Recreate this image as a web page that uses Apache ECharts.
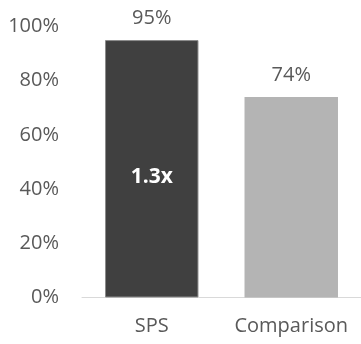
<!DOCTYPE html>
<html><head><meta charset="utf-8">
<script src="https://cdn.jsdelivr.net/npm/echarts@6/dist/echarts.min.js"></script>
<style>html,body{margin:0;padding:0;background:#fff}#c{width:361px;height:344px}</style>
</head><body><div id="c"></div>
<script>
const categories = ['SPS', 'Comparison'];
const values = [95, 74];
const innerLabels = ['1.3x', ''];
const yTicks = [0, 20, 40, 60, 80, 100];

const chart = echarts.init(document.getElementById('c'), null, {renderer: 'canvas'});
const FONT = 'Open Sans';
chart.setOption({
  animation: false,
  grid: {left: 82, right: 0, top: 26.5, bottom: 46.5, containLabel: false},
  xAxis: {
    type: 'category', data: categories,
    axisLine: {lineStyle: {color: '#d9d9d9', width: 1}},
    axisTick: {show: false},
    axisLabel: {interval: 0, hideOverlap: false, color: '#595959', fontFamily: FONT, fontSize: 20, margin: 19}
  },
  yAxis: {
    type: 'value', min: yTicks[0], max: yTicks[yTicks.length - 1], interval: 20,
    splitLine: {show: false}, axisLine: {show: false}, axisTick: {show: false},
    axisLabel: {color: '#595959', fontFamily: FONT, fontSize: 20, margin: 23, formatter: '{value}%'}
  },
  series: [
    {
      type: 'bar', barCategoryGap: '33%',
      data: values.map((v, i) => ({
        value: v,
        itemStyle: i === 0 ? {color: '#404040', borderColor: '#8c8c8c', borderWidth: 1} : {color: '#b4b4b4'}
      })),
      label: {show: true, position: 'top', distance: 12, color: '#595959', fontFamily: FONT, fontSize: 20, formatter: '{c}%'}
    },
    {
      type: 'bar', barGap: '-100%', barCategoryGap: '33%', silent: true,
      data: values.map(v => v),
      itemStyle: {color: 'rgba(0,0,0,0)'},
      label: {show: true, position: 'inside', offset: [0, 8], color: '#ffffff', fontFamily: FONT, fontWeight: 'bold', fontSize: 21,
        formatter: p => innerLabels[p.dataIndex]}
    }
  ]
});
</script></body></html>
